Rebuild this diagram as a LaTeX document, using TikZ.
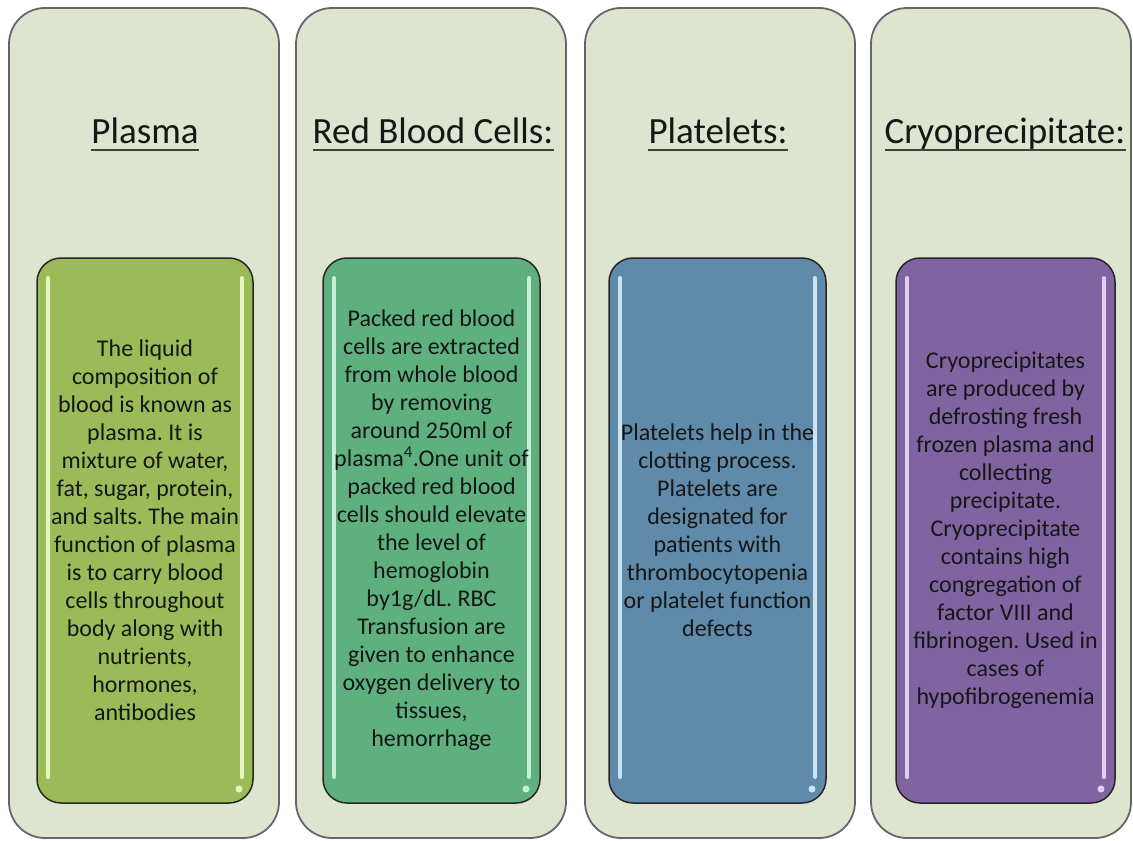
\documentclass[tikz,border=0pt]{standalone}
\usepackage{fontspec}
\setmainfont{Carlito}
\usetikzlibrary{calc}
\definecolor{panelfill}{HTML}{DDE5D0}
\definecolor{panelborder}{HTML}{666666}
\definecolor{cplasma}{HTML}{9BBB59}
\definecolor{hplasma}{HTML}{F2FBCF}
\definecolor{crbc}{HTML}{5EB17F}
\definecolor{hrbc}{HTML}{D2F6E0}
\definecolor{cplat}{HTML}{5F8AAA}
\definecolor{hplat}{HTML}{D6EEFC}
\definecolor{ccryo}{HTML}{8064A2}
\definecolor{hcryo}{HTML}{E8DCF8}
\definecolor{txt}{HTML}{161616}
\frenchspacing
\begin{document}
\begin{tikzpicture}[x=1pt,y=-1pt,
  panel/.style={draw=panelborder, line width=1.8pt, fill=panelfill, rounded corners=36pt,
    minimum height=830pt, outer sep=0pt, inner sep=0pt},
  innerbox/.style={draw=black!85, line width=1.5pt, rounded corners=24pt,
    minimum height=545pt, outer sep=0pt, inner sep=0pt},
  title/.style={anchor=base, inner sep=0pt, text=txt, font=\fontsize{37}{44}\selectfont},
  body/.style={align=center, text=txt, font=\fontsize{24}{28}\selectfont, inner sep=0pt},
  uline/.style={draw=black!75, line width=1.8pt},
  gloss/.style={line width=4pt, line cap=round, opacity=0.9}
]
\useasboundingbox (0,0) rectangle (1133,841);
\fill[white] (0,0) rectangle (1133,841);

% outer panels
\node[panel, minimum width=270pt] (p1) at (144,423) {};
\node[panel, minimum width=270pt] (p2) at (431,423) {};
\node[panel, minimum width=270pt] (p3) at (720,423) {};
\node[panel, minimum width=260pt] (p4) at (1001,423) {};

% titles
\node[title] (t1) at (145,143) {Plasma};
\node[title] (t2) at (433,143) {Red Blood Cells:};
\node[title] (t3) at (718,143) {Platelets:};
\node[title] (t4) at (1005,143) {Cryoprecipitate:};
\foreach \t in {t1,t2,t3,t4}{
  \draw[uline] ($(\t.base west)+(0,7)$) -- ($(\t.base east)+(0,7)$);
}

% inner boxes
\node[innerbox, fill=cplasma, minimum width=216pt] (b1) at (145,530.5) {};
\node[innerbox, fill=crbc, minimum width=217pt] (b2) at (431.5,530.5) {};
\node[innerbox, fill=cplat, minimum width=217pt] (b3) at (717.5,530.5) {};
\node[innerbox, fill=ccryo, minimum width=219pt] (b4) at (1005.5,530.5) {};

% gloss highlights
\foreach \b/\h in {b1/hplasma,b2/hrbc,b3/hplat,b4/hcryo}{
  \draw[gloss, draw=\h] ($(\b.north west)+(11,20)$) -- ($(\b.south west)+(11,-26)$);
  \draw[gloss, draw=\h] ($(\b.north east)+(-11,20)$) -- ($(\b.south east)+(-11,-26)$);
  \fill[\h, opacity=0.9] ($(\b.south east)+(-14,-14)$) circle (3.5pt);
}

% texts
\node[body] (x1) at (b1.center) {The liquid\\composition of\\blood is known as\\plasma. It is\\mixture of water,\\fat, sugar, protein,\\and salts. The main\\function of plasma\\is to carry blood\\cells throughout\\body along with\\nutrients,\\hormones,\\antibodies};
\node[body] (x2) at (b2.center) {Packed red blood\\cells are extracted\\from whole blood\\by removing\\around 250ml of\\plasma\textsuperscript{4}.One unit of\\packed red blood\\cells should elevate\\the level of\\hemoglobin\\by1g/dL. RBC\\Transfusion are\\given to enhance\\oxygen delivery to\\tissues,\\hemorrhage};
\node[body] (x3) at (b3.center) {Platelets help in the\\clotting process.\\Platelets are\\designated for\\patients with\\thrombocytopenia\\or platelet function\\defects};
\node[body] (x4) at (b4.center) {Cryoprecipitates\\are produced by\\defrosting fresh\\frozen plasma and\\collecting\\precipitate.\\Cryoprecipitate\\contains high\\congregation of\\factor VIII and\\fibrinogen. Used in\\cases of\\hypofibrogenemia};
\end{tikzpicture}
\end{document}
